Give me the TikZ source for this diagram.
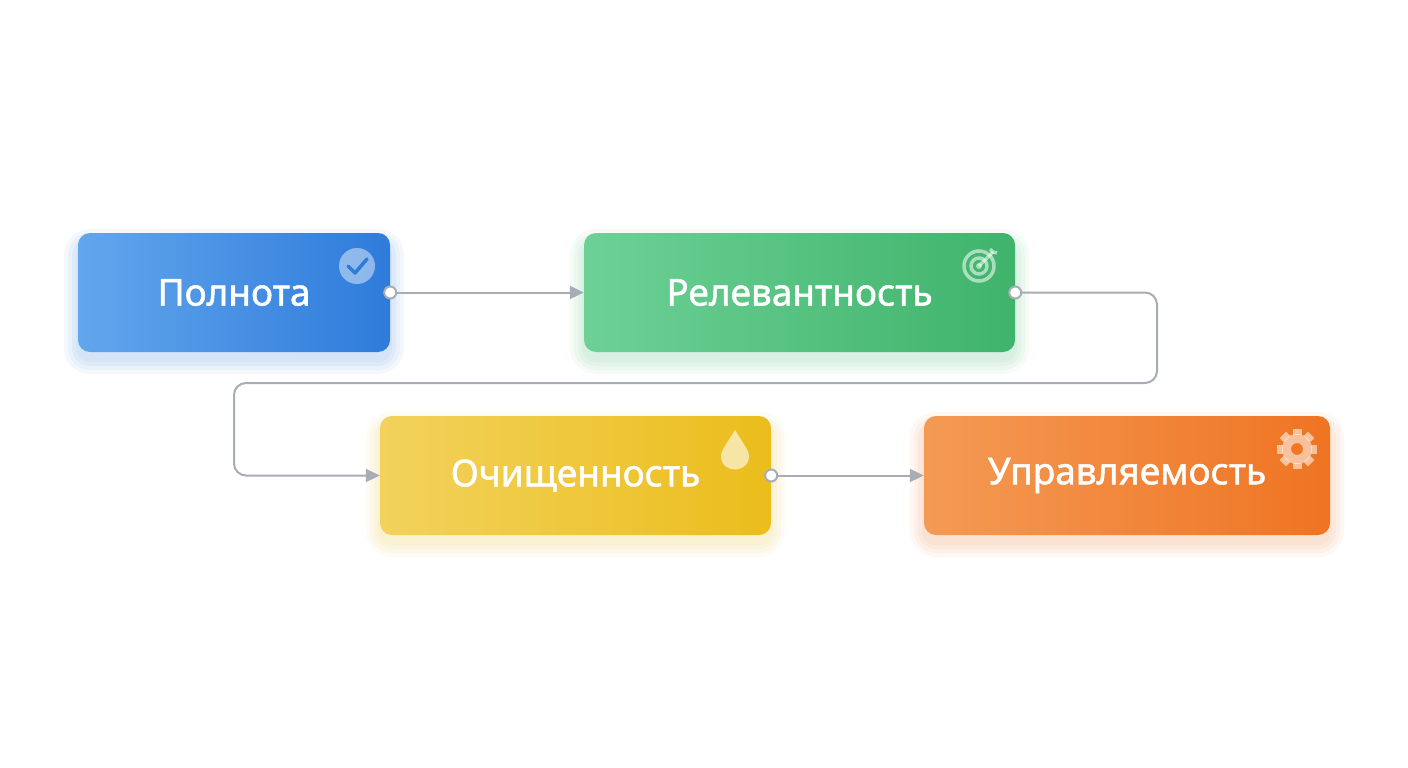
\documentclass[tikz,border=0pt]{standalone}
\usepackage{fontspec}
\setmainfont{Noto Sans}[FakeBold=1.4]
\usetikzlibrary{arrows.meta}
\definecolor{bA}{HTML}{62A6EC}\definecolor{bB}{HTML}{2E7BDB}
\definecolor{gA}{HTML}{6DD196}\definecolor{gB}{HTML}{3FB36B}
\definecolor{yA}{HTML}{F2D25C}\definecolor{yB}{HTML}{EBBD1C}
\definecolor{oA}{HTML}{F49A55}\definecolor{oB}{HTML}{EF7422}
\definecolor{ln}{HTML}{A8ADB5}
\tikzset{
 card/.style 2 args={rounded corners=12pt,left color=#1,right color=#2,draw=none,
   text=white,font=\fontsize{37}{40}\selectfont,minimum height=119pt,inner sep=0pt},
 conn/.style={draw=ln,line width=2pt,-{Triangle[length=14pt,width=13pt]}},
 dot/.style={circle,draw=ln,fill=white,line width=2pt,inner sep=0pt,minimum size=12pt},
}
\newcommand\glow[5]{% x y w h color
 \foreach \s in {14,10,6,2}{\fill[#5,opacity=0.05,rounded corners=12pt+\s pt]
   (#1-#3/2-\s,#2-#4/2-\s+10) rectangle (#1+#3/2+\s,#2+#4/2+\s+8);}}
\begin{document}
\begin{tikzpicture}[x=1pt,y=-1pt]
\useasboundingbox[fill=white] (0,0) rectangle (1408,768);
\glow{234}{292.5}{312}{119}{bB}
\glow{799.5}{292.5}{431}{119}{gB}
\glow{575.5}{475.5}{391}{119}{yB}
\glow{1127}{475.5}{406}{119}{oB}
\node[card={bA}{bB},minimum width=312pt] (p) at (234,292.5) {Полнота};
\node[card={gA}{gB},minimum width=431pt] (r) at (799.5,292.5) {Релевантность};
\node[card={yA}{yB},minimum width=391pt] (o) at (575.5,475.5) {Очищенность};
\node[card={oA}{oB},minimum width=406pt] (u) at (1127,475.5) {Управляемость};
% icons
\fill[white,opacity=0.45] (357,266) circle (18pt);
\draw[bB,line width=3.5pt,line cap=round,line join=round] (348,266)--(355,273)--(367,259);
\begin{scope}[shift={(979,266)},white,opacity=0.55,line width=3.5pt]
\draw (0,0) circle (15pt); \draw (0,0) circle (8pt); \fill (0,0) circle (3pt);
\draw (0,0)--(14,-14); \draw (11,-17)--(14,-14)--(18,-13);
\end{scope}
\fill[white,opacity=0.6] (735,430) .. controls (728,442) and (721,450) .. (721,456)
 .. controls (721,474) and (749,474) .. (749,456) .. controls (749,450) and (742,442) .. (735,430);
\begin{scope}[shift={(1297,449)},white,opacity=0.55]
\fill[even odd rule] (0,0) circle (15pt) (0,0) circle (6pt);
\foreach \a in {0,45,...,315}{\fill[rotate=\a] (-4.5,-20) rectangle (4.5,-14);}
\end{scope}
% connectors
\node[dot] (d1) at (p.east) {};
\node[dot] (d2) at (r.east) {};
\node[dot] (d3) at (o.east) {};
\draw[conn] (d1) -- (r.west);
\draw[conn,rounded corners=12pt] (d2.east) -- (1157,292.5) -- (1157,383) -- (234,383) -- (234,475.5) -- (o.west);
\draw[conn] (d3) -- (u.west);
\end{tikzpicture}
\end{document}
